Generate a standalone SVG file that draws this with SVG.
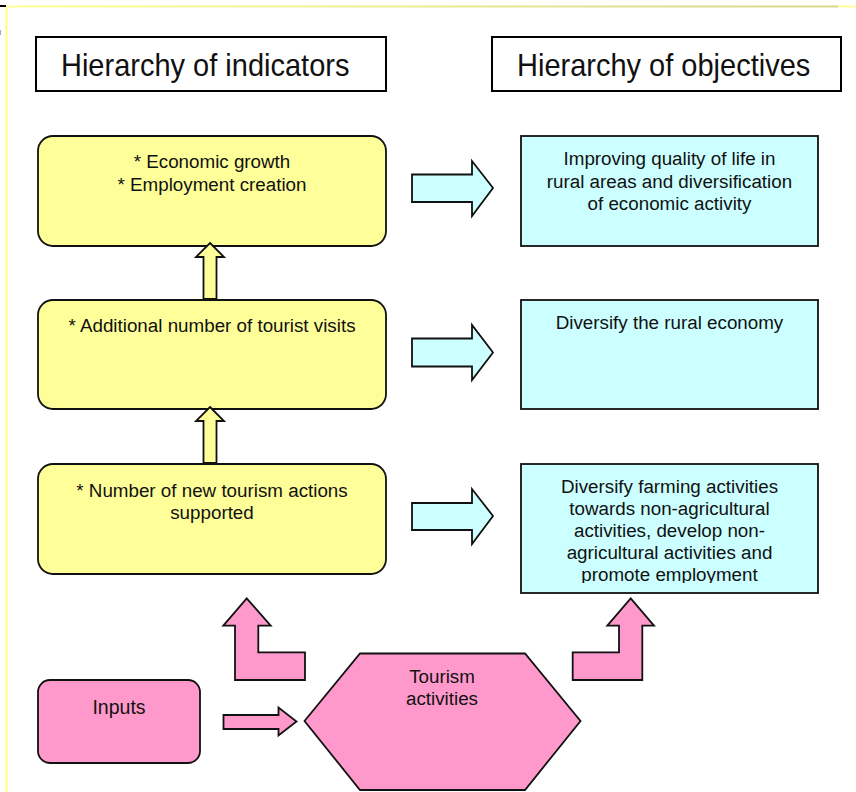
<svg xmlns="http://www.w3.org/2000/svg" width="856" height="792" viewBox="0 0 856 792">
<style>
  text { font-family: "Liberation Sans", Arial, sans-serif; fill: #111; }
  .hdr { font-size: 29px; }
  .t { font-size: 18.8px; text-anchor: middle; }
  .hbox { fill: #fff; stroke: #000; stroke-width: 2; }
  .yel { fill: #FFFF99; stroke: #111; stroke-width: 1.8; }
  .cya { fill: #CCFFFF; stroke: #111; stroke-width: 1.8; }
  .pnk { fill: #FF99CC; stroke: #111; stroke-width: 1.8; }
</style>
<defs>
  <clipPath id="clip3"><rect x="521" y="464" width="297" height="119"/></clipPath>
  <linearGradient id="topline" x1="6" y1="0" x2="838" y2="0" gradientUnits="userSpaceOnUse">
    <stop offset="0" stop-color="#ffff99"/>
    <stop offset="1" stop-color="#d6d68c"/>
  </linearGradient>
</defs>
<rect x="0" y="0" width="856" height="792" fill="#fff"/>
<g id="frame">
  <line x1="838" y1="6.5" x2="856" y2="6.5" stroke="#ffff99" stroke-width="2"/>
  <line x1="6" y1="6.5" x2="838" y2="6.5" stroke="url(#topline)" stroke-width="2"/>
  <line x1="6.5" y1="6" x2="6.5" y2="792" stroke="#ffff88" stroke-width="2"/>
  <line x1="0" y1="6" x2="6" y2="6" stroke="#000" stroke-width="2"/>
  <line x1="0.5" y1="30" x2="0.5" y2="35" stroke="#aaa" stroke-width="1"/>
</g>
<g id="header-indicators">
  <rect class="hbox" x="36" y="37" width="350" height="54"/>
  <text class="hdr" x="61" y="69.7" transform="scale(1,1.09)">Hierarchy of indicators</text>
</g>
<g id="header-objectives">
  <rect class="hbox" x="492" y="37" width="349" height="54"/>
  <text class="hdr" x="517" y="69.7" transform="scale(1,1.09)">Hierarchy of objectives</text>
</g>
<g id="ind-1">
  <rect class="yel" x="38" y="136" width="348" height="110" rx="15"/>
  <text class="t" x="212" y="168">* Economic growth</text>
  <text class="t" x="212" y="191">* Employment creation</text>
</g>
<g id="ind-2">
  <rect class="yel" x="38" y="300" width="348" height="109" rx="15"/>
  <text class="t" x="212" y="332">* Additional number of tourist visits</text>
</g>
<g id="ind-3">
  <rect class="yel" x="38" y="464" width="348" height="110" rx="15"/>
  <text class="t" x="212" y="497">* Number of new tourism actions</text>
  <text class="t" x="212" y="519">supported</text>
</g>
<g id="obj-1">
  <rect class="cya" x="521" y="136" width="297" height="110"/>
  <text class="t" x="669.5" y="165">Improving quality of life in</text>
  <text class="t" x="669.5" y="187.5">rural areas and diversification</text>
  <text class="t" x="669.5" y="209.5">of economic activity</text>
</g>
<g id="obj-2">
  <rect class="cya" x="521" y="300" width="297" height="109"/>
  <text class="t" x="669.5" y="329">Diversify the rural economy</text>
</g>
<g id="obj-3">
  <rect class="cya" x="521" y="464" width="297" height="129"/>
  <g clip-path="url(#clip3)">
    <text class="t" x="669.5" y="493">Diversify farming activities</text>
    <text class="t" x="669.5" y="515">towards non-agricultural</text>
    <text class="t" x="669.5" y="537">activities, develop non-</text>
    <text class="t" x="669.5" y="559">agricultural activities and</text>
    <text class="t" x="669.5" y="581">promote employment</text>
  </g>
</g>
<g id="inputs">
  <rect class="pnk" x="38" y="680" width="162" height="83" rx="12"/>
  <text class="t" x="119" y="714" style="font-size:19.5px">Inputs</text>
</g>
<g id="tourism-activities">
  <polygon class="pnk" points="304.5,721 360,653.5 525,653.5 580.5,721 525,790 360,790"/>
  <text class="t" x="442" y="683">Tourism</text>
  <text class="t" x="442" y="705">activities</text>
</g>
<g id="connectors">
  <polygon class="yel" points="210,243 224,257 216.5,257 216.5,299 203.5,299 203.5,257 196,257"/>
  <polygon class="yel" points="210,407 224,421 216.5,421 216.5,463 203.5,463 203.5,421 196,421"/>
  <polygon class="cya" points="412,174.5 472,174.5 472,161 493,188 472,216 472,202 412,202"/>
  <polygon class="cya" points="412,338.5 472,338.5 472,325 493,352.5 472,380 472,366.5 412,366.5"/>
  <polygon class="cya" points="412,503 472,503 472,489 493,516 472,544 472,530 412,530"/>
  <polygon class="pnk" points="223.5,715 278.5,715 278.5,707.5 296.5,721.5 278.5,735.5 278.5,729 223.5,729"/>
  <polygon class="pnk" points="246.7,598.3 270.7,625.7 258.3,625.7 258.3,652.3 305,652.3 305,680 235,680 235,625.7 223.3,625.7"/>
  <polygon class="pnk" points="630.7,598.3 654,625.7 642.3,625.7 642.3,680 572.7,680 572.7,652.3 619,652.3 619,625.7 607.3,625.7"/>
</g>
</svg>
